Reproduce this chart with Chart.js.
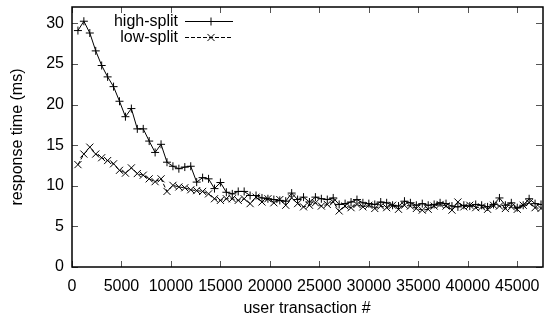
<!DOCTYPE html>
<html>
<head>
<meta charset="utf-8">
<script src="https://cdn.jsdelivr.net/npm/chart.js@4/dist/chart.umd.min.js"></script>
<style>
html,body{margin:0;padding:0;background:#fff;}
#wrap{width:548px;height:320px;position:relative;}
</style>
</head>
<body>
<div id="wrap"><canvas id="c" width="548" height="320"></canvas></div>
<script>
const transactions = [600,1200,1800,2400,3000,3600,4200,4800,5400,6000,6600,7200,7800,8400,9000,9600,10200,10800,11400,12000,12600,13200,13800,14400,15000,15600,16200,16800,17400,18000,18600,19200,19800,20400,21000,21600,22200,22800,23400,24000,24600,25200,25800,26400,27000,27600,28200,28800,29400,30000,30600,31200,31800,32400,33000,33600,34200,34800,35400,36000,36600,37200,37800,38400,39000,39600,40200,40800,41400,42000,42600,43200,43800,44400,45000,45600,46200,46800,47400];
const highSplit = [29.1,30.25,28.8,26.6,24.8,23.4,22.2,20.4,18.5,19.5,17.0,17.0,15.5,14.1,15.1,12.9,12.4,12.1,12.3,12.4,10.45,11.0,10.85,9.65,10.4,9.2,9.0,9.3,9.3,8.8,8.8,
  8.5,8.4,8.3,8.2,8.1,9.1,8.3,8.6,8.0,8.6,8.4,8.3,8.5,7.7,7.8,8.0,8.3,7.9,7.8,7.7,8.0,7.9,7.6,7.5,8.1,7.9,7.6,7.8,7.6,7.7,7.9,7.8,7.5,7.4,7.6,7.5,7.7,7.6,7.4,7.7,8.5,7.6,7.9,7.3,7.6,8.4,7.8,7.7];
const lowSplit = [12.6,13.9,14.75,13.9,13.45,13.1,12.7,11.9,11.55,12.2,11.5,11.3,10.85,10.5,10.85,9.3,10.05,9.85,9.75,9.5,9.4,9.3,9.0,8.4,8.2,8.4,8.4,8.2,8.4,7.8,8.6,
  8.0,8.4,7.9,8.3,7.6,8.5,7.8,7.4,7.6,7.9,7.5,7.7,8.0,6.9,7.5,7.3,7.7,7.4,7.6,7.2,7.5,7.3,7.6,7.1,7.6,7.5,7.2,7.0,7.1,7.5,7.7,7.5,7.0,8.0,7.4,7.6,7.3,7.4,7.1,7.6,7.5,7.2,7.4,7.1,7.6,7.9,7.3,7.2];
const seriesNames = ['high-split','low-split'];
const xTickValues = [0,5000,10000,15000,20000,25000,30000,35000,40000,45000];
const yTickValues = [0,5,10,15,20,25,30];

const FONT = 'Liberation Sans, Arial, Helvetica, sans-serif';
const FS = 16;

const toPts = (ys) => transactions.map((x, i) => ({x: x, y: ys[i]}));

const framePlugin = {
  id: 'frame',
  beforeDatasetsDraw(chart) {
    const {ctx, chartArea: a, scales} = chart;
    ctx.save();
    ctx.strokeStyle = '#555';
    ctx.lineWidth = 1;
    const tl = 6;
    ctx.beginPath();
    scales.x.ticks.forEach(t => {
      const px = Math.round(scales.x.getPixelForValue(t.value)) + 0.5;
      ctx.moveTo(px, a.bottom); ctx.lineTo(px, a.bottom - tl);
      ctx.moveTo(px, a.top); ctx.lineTo(px, a.top + tl);
    });
    scales.y.ticks.forEach(t => {
      const py = Math.round(scales.y.getPixelForValue(t.value)) + 0.5;
      ctx.moveTo(a.left, py); ctx.lineTo(a.left + tl, py);
      ctx.moveTo(a.right, py); ctx.lineTo(a.right - tl, py);
    });
    ctx.stroke();
    ctx.strokeStyle = '#000';
    ctx.lineWidth = 1.5;
    ctx.strokeRect(a.left, a.top, a.right - a.left + 1, a.bottom - a.top);
    ctx.restore();
  },
  afterDatasetsDraw(chart) {
    const {ctx} = chart;
    ctx.save();
    ctx.font = FS + 'px ' + FONT;
    ctx.fillStyle = '#000';
    ctx.textAlign = 'right';
    ctx.textBaseline = 'middle';
    const textRight = 178, lx0 = 185, lx1 = 233, mx = 211;
    const rows = [21.5, 37.5];
    chart.data.datasets.forEach((ds, i) => {
      const y = rows[i];
      ctx.fillText(ds.label, textRight, y + 0.5);
      ctx.strokeStyle = '#000';
      ctx.lineWidth = 1;
      ctx.setLineDash(ds.borderDash || []);
      ctx.beginPath();
      ctx.moveTo(lx0, y); ctx.lineTo(lx1, y);
      ctx.stroke();
      ctx.setLineDash([]);
      ctx.beginPath();
      const r = ds.pointRadius;
      if (ds.pointStyle === 'cross') {
        ctx.moveTo(mx - r, y); ctx.lineTo(mx + r, y);
        ctx.moveTo(mx, y - r); ctx.lineTo(mx, y + r);
      } else {
        const d = r * Math.SQRT1_2;
        ctx.moveTo(mx - d, y - d); ctx.lineTo(mx + d, y + d);
        ctx.moveTo(mx - d, y + d); ctx.lineTo(mx + d, y - d);
      }
      ctx.stroke();
    });
    ctx.restore();
  }
};

new Chart(document.getElementById('c'), {
  type: 'line',
  data: {
    datasets: [
      {
        label: seriesNames[0],
        data: toPts(highSplit),
        borderColor: '#000',
        backgroundColor: '#000',
        borderWidth: 1,
        pointStyle: 'cross',
        pointRadius: 4,
        pointBorderWidth: 1,
        pointBorderColor: '#000',
        fill: false,
        tension: 0
      },
      {
        label: seriesNames[1],
        data: toPts(lowSplit),
        borderColor: '#000',
        backgroundColor: '#000',
        borderWidth: 1,
        borderDash: [4, 2],
        pointStyle: 'crossRot',
        pointRadius: 5,
        pointBorderWidth: 1,
        pointBorderColor: '#000',
        fill: false,
        tension: 0
      }
    ]
  },
  options: {
    responsive: false,
    animation: false,
    events: [],
    layout: {padding: {top: 7, right: 0, left: 0, bottom: 0}},
    plugins: {legend: {display: false}, tooltip: {enabled: false}},
    scales: {
      x: {
        type: 'linear',
        min: 0,
        max: 47500,
        grid: {display: false, drawTicks: false},
        border: {display: false},
        afterBuildTicks: s => { s.ticks = xTickValues.map(v => ({value: v})); },
        afterFit: s => { s.height = 53; s.paddingLeft = 0; s.paddingRight = 0; },
        ticks: {
          autoSkip: false,
          maxRotation: 0,
          padding: 10,
          color: '#000',
          font: {family: FONT, size: FS},
          callback: v => String(v)
        },
        title: {
          display: true,
          text: 'user transaction #',
          color: '#000',
          font: {family: FONT, size: FS},
          padding: {top: 0, bottom: 2}
        }
      },
      y: {
        min: 0,
        max: 32,
        grid: {display: false, drawTicks: false},
        border: {display: false},
        afterBuildTicks: s => { s.ticks = yTickValues.map(v => ({value: v})); },
        afterFit: s => { s.width = 72; s.paddingTop = 0; s.paddingBottom = 0; },
        ticks: {
          autoSkip: false,
          padding: 8,
          color: '#000',
          font: {family: FONT, size: FS}
        },
        title: {
          display: true,
          text: 'response time (ms)',
          color: '#000',
          font: {family: FONT, size: FS},
          padding: {top: 8, bottom: 0}
        }
      }
    }
  },
  plugins: [framePlugin]
});
</script>
</body>
</html>
